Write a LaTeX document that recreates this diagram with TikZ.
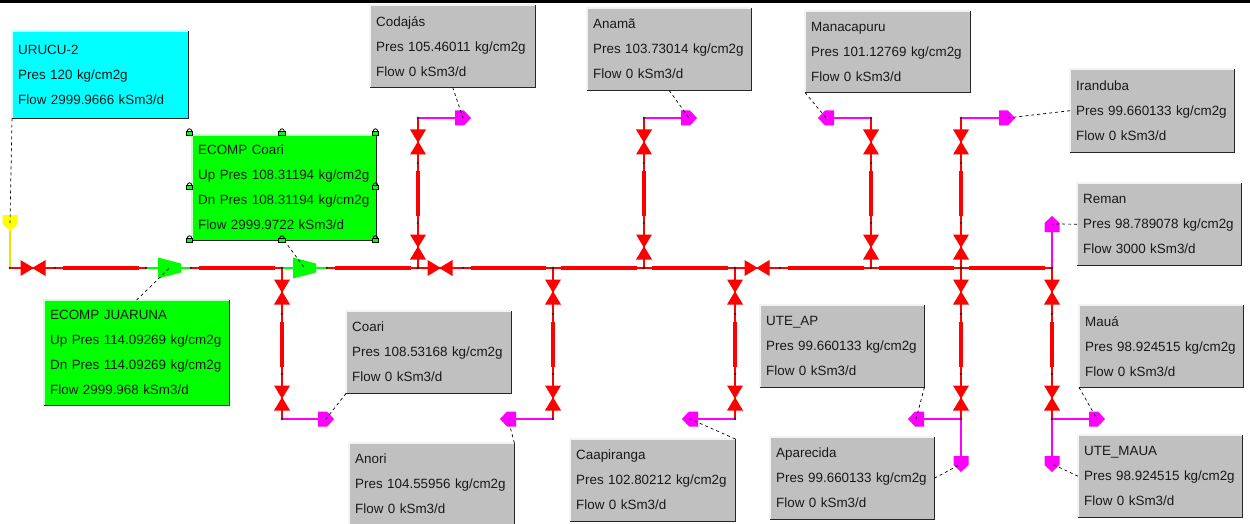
\documentclass[tikz,border=0pt]{standalone}
\usepackage{fontspec}
\setmainfont{Liberation Sans}
\definecolor{boxgrey}{RGB}{192,192,192}
\definecolor{pipered}{RGB}{255,0,0}
\definecolor{sinkmag}{RGB}{255,0,255}
\definecolor{compgreen}{RGB}{0,255,0}
\definecolor{srcyellow}{RGB}{255,255,0}
\definecolor{srccyan}{RGB}{0,255,255}
\tikzset{
  x=1pt,y=-1pt,
  pipe/.style={draw=pipered,line width=1.3pt},
  heavy/.style={draw=pipered,line width=3.6pt,shorten >=7.5pt,shorten <=7.5pt},
  stub/.style={draw=sinkmag,line width=1.2pt},
  gline/.style={draw=compgreen,line width=1.3pt},
  yline/.style={draw=srcyellow!90!black,line width=1.2pt},
  leader/.style={draw=black,line width=.7pt,dash pattern=on 3pt off 3pt},
  jdot/.style={fill=black!85},
  valve/.pic={\fill[pipered] (-12.5,-8)--(0,-.5)--(0,.5)--(-12.5,8)--cycle (12.5,-8)--(0,-.5)--(0,.5)--(12.5,8)--cycle;},
  sink/.pic={\fill[pic actions] (-8,-7.5)--(1,-7.5)--(8,0)--(1,7.5)--(-8,7.5)--cycle;},
  comp/.pic={\fill[compgreen] (-11.5,-10.5)--(11.5,-4.5)--(11.5,4.5)--(-11.5,10.5)--cycle;},
  lockpic/.pic={\draw[black,line width=.8pt] (-2.2,-2) arc[start angle=180,end angle=360,radius=2.2];
     \filldraw[fill=compgreen,draw=black,line width=.7pt] (-3.3,-2) rectangle (3.3,2.6);},
  infobox/.style={rectangle,inner sep=0pt,inner xsep=6pt,anchor=north west,
     font=\fontsize{13.4}{25}\selectfont,align=left,text=black!90},
}
\newcommand{\ibox}[7]{% name, x0,y0,x1,y1, colour, text
  \pgfmathsetlengthmacro{\bw}{(#4-#2)*1pt}\pgfmathsetlengthmacro{\bh}{(#5-#3)*1pt}
  \pgfmathsetlengthmacro{\tw}{(#4-#2-12)*1pt}
  \node[infobox,fill=#6,text width=\tw,minimum height=\bh] (#1) at (#2,#3) {#7};
  \draw[white!80!#6,line width=1.2pt] (#1.south west)--(#1.north west)--(#1.north east);
  \draw[black!85,line width=1.5pt] (#1.south west)--(#1.south east)--(#1.north east);
}
\newcommand{\jd}[1]{\fill[jdot] (#1) circle[radius=1.4];}
% name, x, main junction, y valve1, y dot1, y dot2, y valve2, y end
\newcommand{\pbranch}[8]{
  \coordinate (#1v) at (#2,#4); \coordinate (#1a) at (#2,#5);
  \coordinate (#1b) at (#2,#6); \coordinate (#1w) at (#2,#7); \coordinate (#1e) at (#2,#8);
  \draw[pipe] (#3)--(#1a); \draw[pipe] (#1a)--(#1b); \draw[heavy] (#1a)--(#1b); \draw[pipe] (#1b)--(#1e);
  \path (#1v) pic[rotate=90] {valve}; \path (#1w) pic[rotate=90] {valve};
  \jd{#3}\jd{#1a}\jd{#1b}
}
\newcommand{\upb}[3]{\pbranch{#1}{#2}{#3}{247}{223}{163}{142}{118}}
\newcommand{\dnb}[3]{\pbranch{#1}{#2}{#3}{292}{314}{374}{398}{419}}
\begin{document}
\begin{tikzpicture}
\useasboundingbox (0,0) rectangle (1250,524);
\fill[white] (0,0) rectangle (1250,524);
\fill[black] (0,0) rectangle (1250,3);
% main line coordinates
\foreach \n/\xx in {j0/10,d1/55,d2/146,d3/191,j1/282,d4/327,j2/418,d5/463,j3/553,j4/644,j5/735,d6/780,j6/871,j7/961,j8/1052}{
  \coordinate (\n) at (\xx,268);}
\coordinate (v1) at (33,268); \coordinate (v2) at (440,268); \coordinate (v3) at (757,268);
\coordinate (c1) at (169.5,268); \coordinate (c2) at (304.5,268);
% sinks and source
\coordinate (src) at (10,223);
\foreach \n/\xx/\yy in {sCoda/463/118,sAnam/689/118,sMana/826/118,sIran/1007/118,sReman/1052/224,sCoari/326/419,sAnori/508/419,sCaap/690/419,sUteap/916/419,sApar/961/464,sMaua/1097/419,sUtem/1052/464}{
  \coordinate (\n) at (\xx,\yy);}
% trunk
\draw[pipe] (j0)--(d1); \draw[pipe] (d1)--(d2); \draw[heavy] (d1)--(d2);
\draw[gline] (d2)--(d3);
\draw[pipe] (d3)--(j1); \draw[heavy] (d3)--(j1);
\draw[gline] (j1)--(d4);
\draw[pipe] (d4)--(j2); \draw[heavy] (d4)--(j2);
\draw[pipe] (j2)--(d5);
\foreach \a/\b in {d5/j3,j3/j4,j4/j5,d6/j6,j6/j7,j7/j8}{\draw[pipe] (\a)--(\b); \draw[heavy] (\a)--(\b);}
\draw[pipe] (j5)--(d6);
\draw[yline] (src)--(j0);
% branches
\upb{bCoda}{418}{j2} \upb{bAnam}{644}{j4} \upb{bMana}{871}{j6} \upb{bIran}{961}{j7}
\dnb{bCoari}{282}{j1} \dnb{bAnori}{553}{j3} \dnb{bCaap}{735}{j5} \dnb{bApar}{961}{j7} \dnb{bMaua}{1052}{j8}
% stubs
\draw[stub] (bCodae)--(sCoda); \draw[stub] (bAname)--(sAnam);
\draw[stub] (bManae)--(sMana); \draw[stub] (bIrane)--(sIran);
\draw[stub] (bCoarie)--(sCoari); \draw[stub] (bAnorie)--(sAnori);
\draw[stub] (bCaape)--(sCaap); \draw[stub] (bApare)--(sUteap);
\draw[stub] (bApare)--(sApar); \draw[stub] (bMauae)--(sMaua);
\draw[stub] (bMauae)--(sUtem); \draw[stub] (j8)--(sReman);
\foreach \n in {bCodae,bAname,bManae,bIrane,bCoarie,bAnorie,bCaape,bApare,bMauae}{\fill[jdot] (\n) circle[radius=1.4];}
% valves, compressors
\path (v1) pic {valve}; \path (v2) pic {valve}; \path (v3) pic {valve};
\path (c1) pic {comp}; \path (c2) pic {comp};
\foreach \n in {j0,d1,d2,d3,j1,d4,j2,d5,j3,j4,j5,d6,j6,j7,j8}{\fill[jdot] (\n) circle[radius=1.4];}
% terminals
\path (src) pic[rotate=-90,fill=srcyellow] {sink};
\foreach \n in {sCoda,sAnam,sIran,sCoari,sMaua}{\path (\n) pic[fill=sinkmag] {sink};}
\foreach \n in {sMana,sAnori,sCaap,sUteap}{\path (\n) pic[rotate=180,fill=sinkmag] {sink};}
\path (sReman) pic[rotate=90,fill=sinkmag] {sink};
\path (sApar) pic[rotate=-90,fill=sinkmag] {sink};
\path (sUtem) pic[rotate=-90,fill=sinkmag] {sink};
% boxes
\ibox{urucu}{12}{31}{188}{118}{srccyan}{URUCU-2\\Pres 120 kg/cm2g\\Flow 2999.9666 kSm3/d}
\ibox{ecoari}{192}{135}{376}{240}{compgreen}{ECOMP Coari\\Up Pres 108.31194 kg/cm2g\\Dn Pres 108.31194 kg/cm2g\\Flow 2999.9722 kSm3/d}
\ibox{ejuar}{44}{300}{229}{405}{compgreen}{ECOMP JUARUNA\\Up Pres 114.09269 kg/cm2g\\Dn Pres 114.09269 kg/cm2g\\Flow 2999.968 kSm3/d}
\ibox{codajas}{370}{5}{535}{87}{boxgrey}{Codajás\\Pres 105.46011 kg/cm2g\\Flow 0 kSm3/d}
\ibox{anama}{587}{8}{751}{90}{boxgrey}{Anamã\\Pres 103.73014 kg/cm2g\\Flow 0 kSm3/d}
\ibox{manac}{805}{11}{970}{92}{boxgrey}{Manacapuru\\Pres 101.12769 kg/cm2g\\Flow 0 kSm3/d}
\ibox{irand}{1070}{69}{1234}{152}{boxgrey}{Iranduba\\Pres 99.660133 kg/cm2g\\Flow 0 kSm3/d}
\ibox{reman}{1077}{183}{1241}{265}{boxgrey}{Reman\\Pres 98.789078 kg/cm2g\\Flow 3000 kSm3/d}
\ibox{coari}{346}{311}{511}{393}{boxgrey}{Coari\\Pres 108.53168 kg/cm2g\\Flow 0 kSm3/d}
\ibox{anori}{349}{443}{514}{525}{boxgrey}{Anori\\Pres 104.55956 kg/cm2g\\Flow 0 kSm3/d}
\ibox{caap}{570}{439}{735}{521}{boxgrey}{Caapiranga\\Pres 102.80212 kg/cm2g\\Flow 0 kSm3/d}
\ibox{uteap}{760}{305}{924}{387}{boxgrey}{UTE\_AP\\Pres 99.660133 kg/cm2g\\Flow 0 kSm3/d}
\ibox{apar}{770}{437}{934}{519}{boxgrey}{Aparecida\\Pres 99.660133 kg/cm2g\\Flow 0 kSm3/d}
\ibox{maua}{1079}{305}{1243}{387}{boxgrey}{Mauá\\Pres 98.924515 kg/cm2g\\Flow 0 kSm3/d}
\ibox{utemaua}{1078}{435}{1242}{517}{boxgrey}{UTE\_MAUA\\Pres 98.924515 kg/cm2g\\Flow 0 kSm3/d}
% leaders
\draw[leader] (urucu.south west)--(src);
\draw[leader] (ecoari.south)--(c2);
\draw[leader] (ejuar.north)--(c1);
\draw[leader] (codajas.south)--(sCoda);
\draw[leader] (anama.south)--(sAnam);
\draw[leader] (manac.south west)--(sMana);
\draw[leader] (irand.west)--(sIran);
\draw[leader] (reman.west)--(sReman);
\draw[leader] (coari.south west)--(sCoari);
\draw[leader] (anori.north east)--(sAnori);
\draw[leader] (caap.north east)--(sCaap);
\draw[leader] (uteap.south east)--(sUteap);
\draw[leader] (apar.east)--(sApar);
\draw[leader] (maua.south west)--(sMaua);
\draw[leader] (utemaua.west)--(sUtem);
% selection handles
\foreach \xx/\yy in {189.5/133,282/133,375.5/133,189.5/187,375.5/187,189.5/240,282/240,375.5/240}{
  \path (\xx,\yy) pic {lockpic};}
\end{tikzpicture}
\end{document}
